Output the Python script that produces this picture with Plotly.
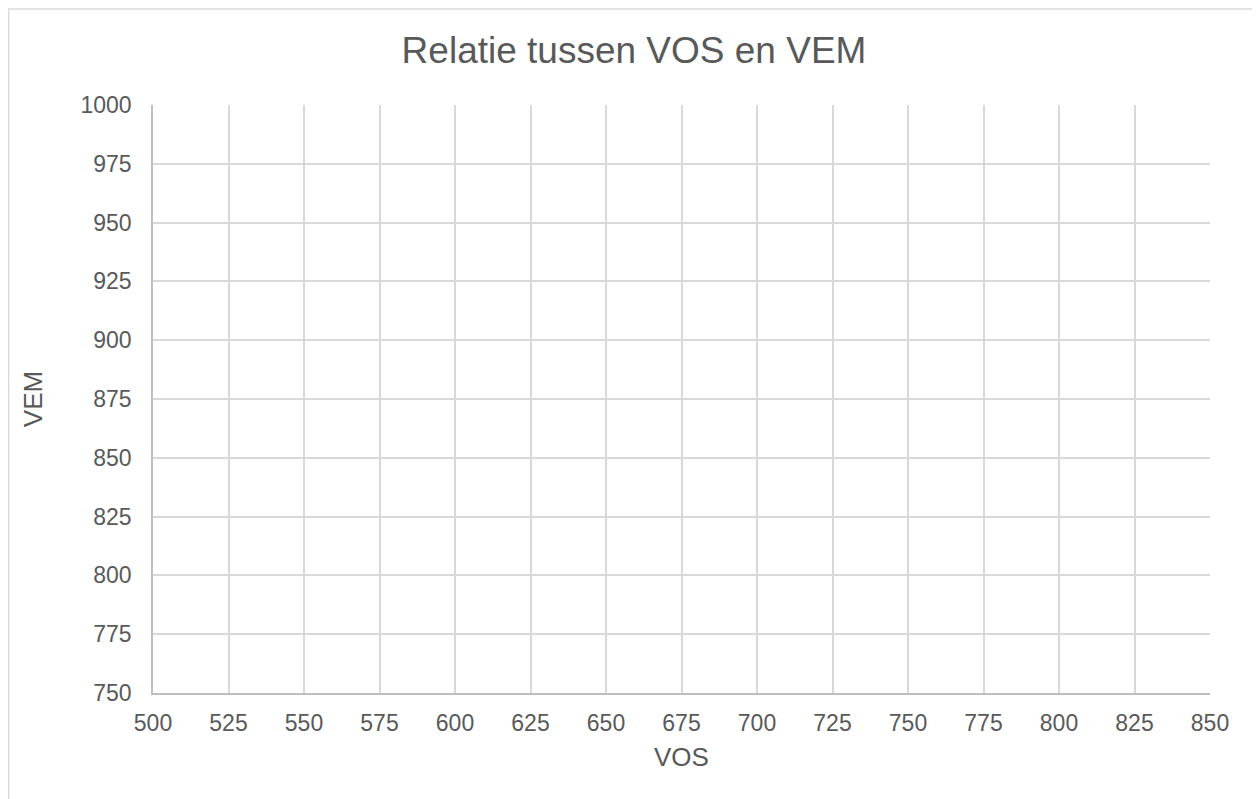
import plotly.graph_objects as go

# Empty scatter chart: no data points in the reference
vos = []
vem = []

x_ticks = [500, 525, 550, 575, 600, 625, 650, 675, 700, 725, 750, 775, 800, 825, 850]
y_ticks = [750, 775, 800, 825, 850, 875, 900, 925, 950, 975, 1000]

# page body has an 8px margin, so the figure is shrunk by that much
OFF = 8
W, H = 1260 - OFF, 799 - OFF
L, R, T, B = 153 - OFF, 50, 105 - OFF, 106

text_col = "#595959"
grid_col = "#d9d9d9"
axis_col = "#bfbfbf"
font_fam = "Liberation Sans, Arial, sans-serif"

fig = go.Figure()
fig.add_trace(go.Scatter(x=vos, y=vem, mode="markers", showlegend=False))

pw = W - L - R
ph = H - T - B


def px_to_paper_x(px):
    return (px - OFF - L) / pw


def px_to_paper_y(py):
    return (H - B - (py - OFF)) / ph


fig.update_layout(
    width=W,
    height=H,
    margin=dict(l=L, r=R, t=T, b=B),
    paper_bgcolor="white",
    plot_bgcolor="white",
    font=dict(family=font_fam, color=text_col, size=22),
    title=dict(text="Relatie tussen VOS en VEM", x=0.5, xref="container",
               xanchor="center",
               y=1 - (50 - OFF) / H, yanchor="middle",
               font=dict(size=37, color=text_col)),
    xaxis=dict(range=[500, 850], tickvals=x_ticks, showgrid=True,
               gridcolor=grid_col, gridwidth=1.5, showline=True,
               linecolor=axis_col, linewidth=1.5, zeroline=False,
               ticks="", ticklabelstandoff=9, tickfont=dict(size=23),
               title=dict(text="VOS", standoff=12)),
    yaxis=dict(range=[750, 1000], tickvals=y_ticks, showgrid=True,
               gridcolor=grid_col, gridwidth=1.5, showline=True,
               linecolor=axis_col, linewidth=1.5, zeroline=False,
               ticks="", ticklabelstandoff=15, tickfont=dict(size=23),
               title=dict(text="VEM", standoff=30)),
    shapes=[dict(type="rect", xref="paper", yref="paper",
                 x0=px_to_paper_x(8.5), x1=px_to_paper_x(1259),
                 y0=px_to_paper_y(820), y1=px_to_paper_y(9),
                 line=dict(color=grid_col, width=1.5), layer="below")],
)

fig.write_html("out.html")
